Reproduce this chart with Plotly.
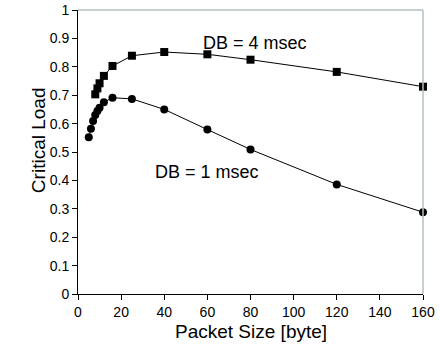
import plotly.graph_objects as go

# Data
x_db4 = [8, 9, 10, 12, 16, 25, 40, 60, 80, 120, 160]
y_db4 = [0.703, 0.724, 0.742, 0.768, 0.803, 0.839, 0.852, 0.844, 0.825, 0.782, 0.730]
x_db1 = [5, 6, 7, 8, 9, 10, 12, 16, 25, 40, 60, 80, 120, 160]
y_db1 = [0.552, 0.582, 0.609, 0.630, 0.644, 0.656, 0.675, 0.691, 0.687, 0.650, 0.579, 0.509, 0.386, 0.288]
x_ticks = [0, 20, 40, 60, 80, 100, 120, 140, 160]
y_ticks = [0, 0.1, 0.2, 0.3, 0.4, 0.5, 0.6, 0.7, 0.8, 0.9, 1]
y_tick_labels = ["0", "0.1", "0.2", "0.3", "0.4", "0.5", "0.6", "0.7", "0.8", "0.9", "1"]

FONT = "Liberation Sans, Arial, sans-serif"

fig = go.Figure()
fig.add_trace(go.Scatter(x=x_db4, y=y_db4, mode="lines+markers",
                         line=dict(color="black", width=1),
                         marker=dict(symbol="square", size=8, color="black"),
                         showlegend=False, cliponaxis=False))
fig.add_trace(go.Scatter(x=x_db1, y=y_db1, mode="lines+markers",
                         line=dict(color="black", width=1),
                         marker=dict(symbol="circle", size=8, color="black"),
                         showlegend=False, cliponaxis=False))

fig.add_annotation(x=82, y=0.885, text="DB = 4 msec", showarrow=False,
                   font=dict(family=FONT, size=18, color="black"))
fig.add_annotation(x=60, y=0.43, text="DB = 1 msec", showarrow=False,
                   font=dict(family=FONT, size=18, color="black"))

# axis titles
fig.add_annotation(xref="paper", yref="paper", x=0.5, y=0, yshift=-50,
                   text="Packet Size [byte]", showarrow=False,
                   font=dict(family=FONT, size=19, color="black"))
fig.add_annotation(xref="paper", yref="paper", x=0, y=0.54, xshift=-52,
                   text="Critical Load", showarrow=False, textangle=-90,
                   font=dict(family=FONT, size=19, color="black"))

# frame top/right (light grey)
fig.add_shape(type="line", xref="paper", yref="paper", x0=0, x1=1, y0=1, y1=1,
              line=dict(color="#b4c0c2", width=1.5))
fig.add_shape(type="line", xref="paper", yref="paper", x0=1, x1=1, y0=0, y1=1,
              line=dict(color="#b4c0c2", width=1.5))

fig.update_layout(
    width=440, height=360,
    margin=dict(l=78, r=17, t=10, b=66),
    paper_bgcolor="white", plot_bgcolor="white",
    font=dict(family=FONT, color="black"),
    xaxis=dict(range=[0, 160], tickvals=x_ticks, ticks="outside", ticklen=5,
               tickcolor="black", showline=True, linecolor="black", linewidth=1,
               showgrid=False, zeroline=False, tickfont=dict(size=14),
               automargin=False),
    yaxis=dict(range=[0, 1], tickvals=y_ticks, ticktext=y_tick_labels,
               ticks="outside", ticklen=5, tickcolor="black", showline=True,
               linecolor="black", linewidth=1, showgrid=False, zeroline=False,
               tickfont=dict(size=14), automargin=False),
)

fig.write_html(
    "out.html",
    config={"displayModeBar": False},
    post_script="document.body.style.margin='0';document.body.style.overflow='hidden';",
)
